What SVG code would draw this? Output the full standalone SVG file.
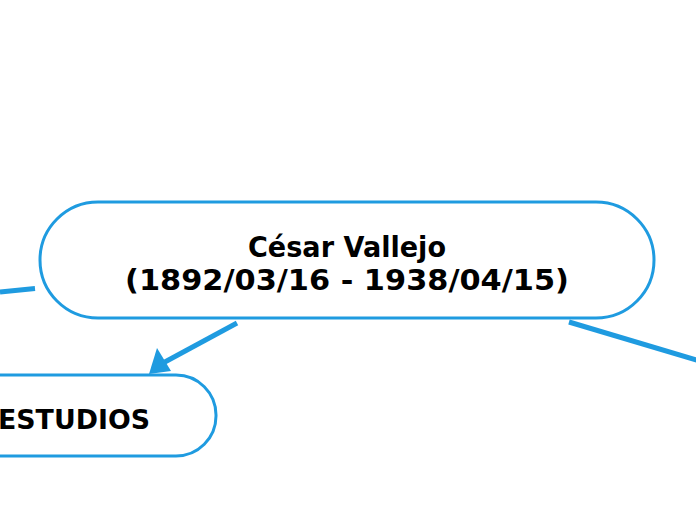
<svg xmlns="http://www.w3.org/2000/svg" width="696" height="520" viewBox="0 0 696 520">
<style>
.node{fill:#ffffff;stroke:#1f9be0;stroke-width:3}
.conn{stroke:#1f9be0;stroke-width:5;fill:none}
.t{font-family:"DejaVu Sans",Verdana,sans-serif;font-weight:bold;fill:#000;text-anchor:middle}
</style>
<rect width="696" height="520" fill="#ffffff"/>
<g id="connectors">
<line class="conn" x1="0" y1="292" x2="35" y2="288.5"/>
<line class="conn" x1="237" y1="323" x2="163" y2="363"/>
<polygon points="157,348 149,374 171,371" fill="#1f9be0"/>
<line class="conn" x1="569" y1="322" x2="700" y2="361"/>
</g>
<g id="node-main">
<rect class="node" x="40" y="202" width="614" height="116" rx="58" ry="58"/>
<text class="t" font-size="29" x="347" y="257" textLength="198" lengthAdjust="spacingAndGlyphs">César Vallejo</text>
<text class="t" font-size="29" x="347" y="290" textLength="444" lengthAdjust="spacingAndGlyphs">(1892/03/16 - 1938/04/15)</text>
</g>
<g id="node-estudios">
<rect class="node" x="-66" y="375" width="282" height="81" rx="40" ry="40"/>
<text class="t" font-size="27" x="74" y="429" textLength="152" lengthAdjust="spacingAndGlyphs">ESTUDIOS</text>
</g>
</svg>
